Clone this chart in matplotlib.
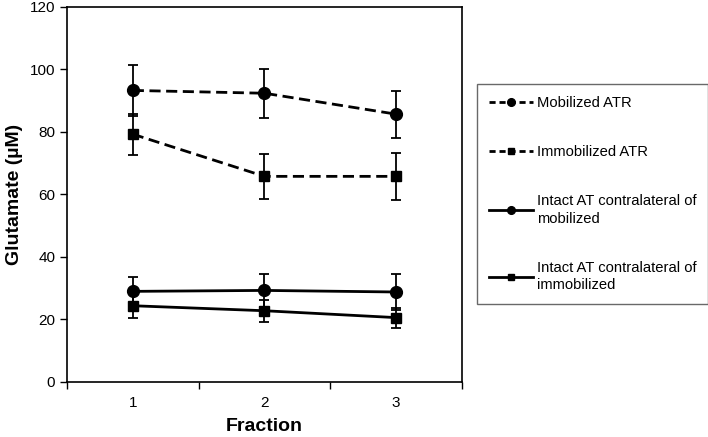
import matplotlib
matplotlib.use("Agg")
import matplotlib.pyplot as plt
from matplotlib.lines import Line2D

# Datos
fractions = [1, 2, 3]
mob_atr = [93.3, 92.4, 85.7]
mob_atr_err = [8.1, 7.8, 7.5]
immob_atr = [79.3, 65.8, 65.8]
immob_atr_err = [6.6, 7.3, 7.5]
intact_mob = [29.0, 29.3, 28.8]
intact_mob_err = [4.7, 5.3, 5.7]
intact_immob = [24.4, 22.8, 20.6]
intact_immob_err = [4.0, 3.5, 3.2]

labels = ['Mobilized ATR', 'Immobilized ATR',
          'Intact AT contralateral of\nmobilized',
          'Intact AT contralateral of\nimmobilized']

plt.rcParams['font.family'] = ['Liberation Sans', 'DejaVu Sans']

fig = plt.figure(figsize=(7.08, 4.37), dpi=100)
ax = fig.add_axes([0.0946, 0.1259, 0.5579, 0.8581])

series = [
    (mob_atr, mob_atr_err, 'o', '--', 8.5),
    (immob_atr, immob_atr_err, 's', '--', 7.5),
    (intact_mob, intact_mob_err, 'o', '-', 8.5),
    (intact_immob, intact_immob_err, 's', '-', 7.5),
]

handles = []
for (vals, errs, mk, ls, ms), lab in zip(series, labels):
    line, caps, bars = ax.errorbar(fractions, vals, yerr=errs, color='black',
                                   marker=mk, markersize=ms, linestyle=ls,
                                   linewidth=2.0, elinewidth=1.3, capsize=3.5,
                                   capthick=1.3)
    h = Line2D([], [], color='black', marker=mk, markersize=ms * 0.65,
               linestyle=ls, linewidth=2.0, label=lab)
    if ls == '--':
        line.set_dashes((4, 2))
        h.set_dashes((2.2, 1.4))
    handles.append(h)

ax.set_xlim(0.5, 3.5)
ax.set_ylim(0, 120)
ax.set_yticks(range(0, 121, 20))
ax.set_xticks(fractions)
ax.set_xticks([0.5, 1.5, 2.5, 3.5], minor=True)
ax.tick_params(axis='x', which='major', length=0, pad=10, labelsize=11)
ax.tick_params(axis='x', which='minor', length=5, width=1, direction='out')
ax.tick_params(axis='y', length=5, width=1, direction='out', labelsize=11)

for sp in ax.spines.values():
    sp.set_linewidth(1.2)
    sp.set_color('black')

ax.set_xlabel('Fraction', fontsize=14, fontweight='bold', labelpad=6)
ax.set_ylabel('Glutamate (µM)', fontsize=14, fontweight='bold', labelpad=5)

leg = fig.legend(handles=handles, loc='upper left',
                 bbox_to_anchor=(477 / 708, 1 - 84 / 437), fontsize=10.6,
                 frameon=True, fancybox=False, edgecolor='#444444',
                 labelspacing=2.4, handlelength=3.0, handletextpad=0.25,
                 borderpad=0.8, borderaxespad=0)
leg.get_frame().set_linewidth(1.0)
for t in leg.get_texts():
    t.set_linespacing(1.3)

fig.savefig('out.png', dpi=100)
